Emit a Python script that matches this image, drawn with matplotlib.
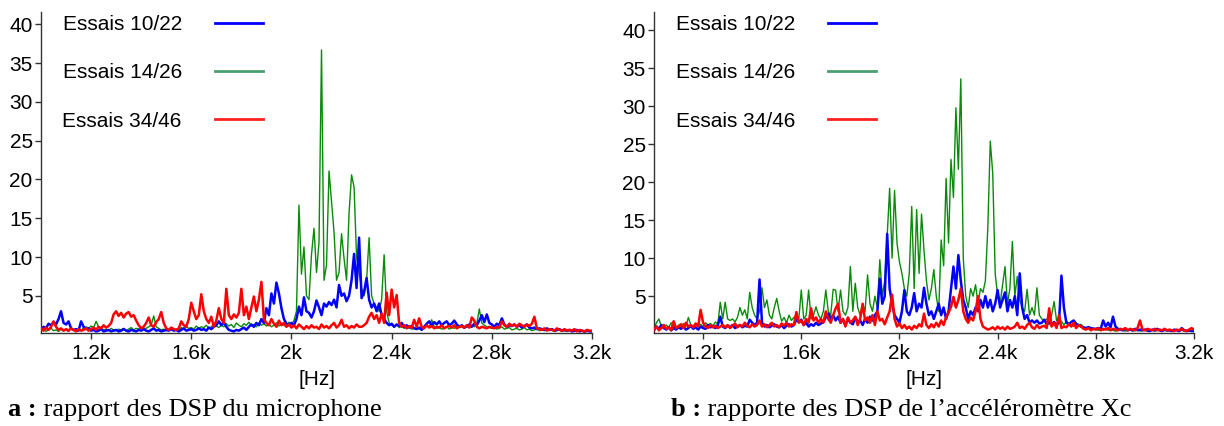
import numpy as np
import matplotlib
matplotlib.use("Agg")
import matplotlib.pyplot as plt
from matplotlib.lines import Line2D

plt.rcParams['font.family'] = ['Liberation Sans', 'DejaVu Sans']

# Frequency axis [Hz], 10 Hz step
freq = np.arange(1000, 3201, 10)

series_labels = ["Essais 10/22", "Essais 14/26", "Essais 34/46"]
x_ticks = [1200, 1600, 2000, 2400, 2800, 3200]
x_tick_labels = ["1.2k", "1.6k", "2k", "2.4k", "2.8k", "3.2k"]
y_ticks = [5, 10, 15, 20, 25, 30, 35, 40]

# ---- Panel a : microphone ----
mic_blue = [
 0.6, 1.0, 0.8, 1.4, 1.2, 1.6, 1.3, 2.0, 3.0, 1.5,
 1.3, 1.7, 0.8, 0.6, 0.7, 0.5, 1.7, 1.0, 0.7, 0.8,
 0.5, 0.6, 0.4, 0.5, 0.7, 0.4, 0.5, 0.6, 0.4, 0.5,
 0.6, 0.4, 0.5, 0.7, 0.5, 0.4, 0.6, 0.5, 0.4, 0.6,
 0.5, 0.7, 0.5, 0.4, 0.6, 0.8, 0.5, 0.6, 0.4, 0.5,
 0.6, 0.5, 0.7, 0.5, 0.6, 0.4, 0.6, 0.8, 0.5, 0.6,
 0.7, 0.5, 0.6, 0.8, 0.6, 0.7, 0.5, 0.9, 0.7, 1.0,
 1.2, 1.7, 1.2, 1.6, 1.0, 0.6, 0.5, 0.4, 0.6, 0.5,
 0.7, 0.9, 0.6, 1.0, 1.3, 1.0, 1.5, 1.2, 2.0, 1.5,
 3.4, 2.5, 5.3, 4.0, 6.7, 5.3, 3.4, 2.0, 1.4, 1.2,
 1.5, 1.2, 2.0, 3.6, 2.5, 4.8, 3.0, 2.8, 2.2, 3.0,
 4.4, 3.5, 2.5, 4.0, 3.6, 4.2, 3.8, 4.5, 3.5, 6.4,
 5.0, 5.3, 4.3, 5.0, 7.0, 10.4, 6.0, 12.5, 4.7, 5.5,
 7.3, 4.5, 3.5, 4.0, 3.0, 4.0, 2.5, 2.0, 1.5, 1.2,
 1.4, 1.0, 1.3, 1.1, 1.5, 1.0, 1.2, 0.9, 1.1, 0.8,
 0.7, 0.9, 0.6, 1.0, 1.4, 1.7, 1.2, 1.6, 1.3, 1.7,
 1.2, 1.5, 1.7, 1.2, 1.4, 1.8, 1.3, 1.0, 1.2, 0.9,
 1.1, 1.3, 1.0, 1.4, 1.2, 1.8, 2.5, 1.6, 2.6, 1.5,
 1.3, 1.0, 1.4, 1.2, 2.1, 1.3, 1.0, 1.2, 1.1, 1.3,
 1.0, 1.2, 0.9, 1.1, 1.3, 0.9, 0.8, 0.9, 0.7, 0.8,
 0.7, 0.6, 0.8, 0.6, 0.7, 0.5, 0.6, 0.7, 0.5, 0.6,
 0.5, 0.6, 0.4, 0.5, 0.6, 0.4, 0.5, 0.4, 0.5, 0.4,
 0.4]

mic_green = [
 0.5, 0.7, 0.4, 0.6, 0.8, 0.5, 0.6, 0.4, 0.7, 0.5,
 0.6, 0.4, 0.8, 0.5, 0.6, 0.7, 0.5, 0.9, 1.0, 0.8,
 1.1, 0.9, 1.7, 1.0, 0.8, 0.6, 0.7, 0.5, 0.8, 0.6,
 0.5, 0.7, 0.6, 0.8, 0.5, 0.7, 0.9, 0.6, 0.8, 0.7,
 0.9, 0.6, 0.8, 1.0, 1.2, 2.4, 1.0, 0.8, 0.6, 0.7,
 0.5, 0.6, 0.8, 0.5, 0.7, 0.6, 0.9, 0.7, 1.0, 0.8,
 0.9, 0.7, 1.1, 0.8, 1.0, 0.9, 1.2, 0.8, 1.0, 1.3,
 1.1, 0.9, 1.2, 1.0, 1.4, 1.1, 1.3, 0.9, 1.5, 1.2,
 1.0, 1.4, 1.2, 1.6, 1.1, 1.3, 1.0, 1.5, 1.2, 1.4,
 1.1, 1.3, 1.0, 1.2, 1.5, 1.1, 1.4, 1.2, 1.0, 1.6,
 1.3, 1.8, 3.0, 16.7, 7.8, 11.3, 5.0, 4.5, 10.3, 13.7,
 8.0, 11.9, 36.7, 7.0, 9.0, 21.1, 17.2, 13.2, 7.0, 8.0,
 13.0, 9.8, 7.0, 15.7, 20.6, 19.0, 10.0, 8.0, 6.0, 5.0,
 7.0, 12.5, 5.0, 4.0, 3.5, 3.0, 4.5, 10.3, 3.0, 1.5,
 1.2, 1.0, 1.3, 0.9, 1.1, 0.8, 1.0, 0.9, 0.7, 0.8,
 0.9, 0.7, 1.0, 0.8, 1.2, 0.9, 1.9, 1.0, 0.8, 0.9,
 0.7, 0.8, 1.0, 0.7, 0.9, 0.8, 1.1, 0.9, 1.0, 0.8,
 1.0, 0.9, 1.2, 1.0, 1.4, 3.3, 1.5, 1.2, 1.0, 0.9,
 0.8, 0.9, 0.7, 0.8, 1.0, 0.7, 0.8, 0.9, 0.6, 0.7,
 0.8, 0.6, 0.7, 0.9, 0.6, 0.7, 0.5, 0.6, 0.7, 0.5,
 0.6, 0.5, 0.7, 0.5, 0.6, 0.4, 0.5, 0.6, 0.4, 0.5,
 0.4, 0.5, 0.6, 0.4, 0.5, 0.4, 0.5, 0.3, 0.4, 0.5,
 0.4]

mic_red = [
 0.8, 0.5, 0.9, 0.6, 1.0, 1.7, 1.0, 0.6, 0.8, 0.5,
 0.7, 0.5, 0.8, 0.6, 0.4, 0.7, 0.5, 0.6, 0.8, 0.5,
 0.7, 0.9, 0.6, 1.0, 0.8, 1.2, 0.9, 1.1, 1.5, 2.6,
 3.0, 2.4, 2.8, 2.2, 2.7, 2.9, 2.3, 2.5, 1.8, 1.2,
 0.8, 1.0, 1.5, 2.2, 1.2, 1.0, 1.6, 2.0, 2.9, 1.5,
 0.8, 0.6, 0.9, 0.7, 0.6, 0.8, 1.7, 1.2, 1.0, 2.0,
 4.1, 3.0, 2.0, 2.5, 5.2, 3.0, 2.0, 1.5, 2.3, 1.0,
 1.8, 3.4, 2.0, 1.5, 5.9, 2.5, 2.0, 2.6, 2.2, 2.8,
 5.9, 2.5, 3.6, 2.0, 3.5, 4.9, 3.0, 4.5, 6.8, 2.0,
 1.5, 1.2, 2.0, 1.4, 1.0, 1.8, 1.2, 1.5, 1.0, 1.3,
 0.9, 1.2, 0.8, 1.3, 1.0, 0.7, 1.1, 0.8, 1.2, 0.9,
 1.0, 0.7, 1.3, 0.9, 1.1, 0.8, 1.2, 1.5, 0.9, 1.2,
 1.9, 1.0, 1.2, 0.8, 1.1, 0.9, 1.3, 1.0, 1.0, 1.2,
 1.5, 2.3, 2.8, 2.0, 2.5, 1.5, 2.7, 1.5, 5.4, 2.5,
 5.8, 3.5, 5.1, 1.5, 1.0, 1.2, 0.8, 1.1, 0.9, 1.9,
 1.0, 2.1, 1.0, 0.8, 1.2, 0.9, 1.1, 0.8, 1.0, 0.9,
 1.2, 0.8, 1.0, 1.1, 0.9, 1.2, 0.8, 1.0, 1.1, 0.9,
 1.2, 0.9, 2.2, 1.8, 1.0, 0.8, 1.0, 0.9, 0.8, 1.0,
 0.9, 0.8, 1.0, 0.9, 1.7, 1.2, 1.0, 1.4, 1.1, 1.3,
 1.0, 1.4, 1.2, 1.0, 1.3, 1.1, 1.4, 2.3, 0.8, 0.7,
 0.6, 0.8, 0.5, 0.7, 0.6, 0.5, 0.8, 0.6, 0.5, 0.7,
 0.5, 0.6, 0.5, 0.7, 0.4, 0.6, 0.5, 0.4, 0.6, 0.5,
 0.5]

# ---- Panel b : accelerometer Xc ----
acc_blue = [
 0.5, 1.0, 0.7, 1.2, 0.8, 0.6, 0.9, 0.5, 0.8, 0.6,
 0.9, 0.7, 1.0, 0.6, 0.8, 1.1, 0.7, 0.9, 0.6, 1.0,
 0.8, 0.7, 1.2, 0.9, 1.0, 0.8, 1.2, 2.3, 1.0, 0.8,
 1.1, 0.9, 1.2, 0.8, 1.0, 1.2, 0.9, 1.1, 1.0, 1.9,
 1.5, 1.2, 1.5, 7.2, 1.5, 1.0, 1.2, 0.9, 1.1, 1.3,
 1.0, 0.9, 1.2, 0.8, 1.1, 1.3, 1.0, 1.2, 1.9, 1.6,
 1.9, 1.2, 1.5, 1.0, 1.3, 1.1, 1.5, 1.2, 1.4, 1.6,
 2.2, 2.7, 2.0, 2.5, 1.8, 2.3, 1.5, 1.9, 1.2, 2.0,
 1.5, 1.3, 2.2, 1.6, 1.8, 1.2, 2.0, 1.5, 2.3, 1.8,
 2.5, 3.0, 7.3, 4.0, 5.0, 13.2, 6.0, 4.0, 2.5, 2.0,
 1.5, 3.0, 5.8, 3.0, 2.5, 3.5, 5.4, 3.0, 4.0, 3.5,
 6.1, 4.0, 2.5, 3.0, 2.0, 3.0, 4.0, 2.5, 3.5, 2.0,
 3.0, 6.0, 8.9, 6.0, 10.4, 7.0, 4.5, 3.5, 2.0, 3.0,
 2.5, 3.5, 3.0, 4.5, 3.5, 5.0, 3.5, 4.5, 3.0, 4.0,
 5.8, 3.5, 4.5, 5.5, 3.0, 4.5, 3.5, 5.0, 2.5, 8.0,
 3.5, 2.0, 2.5, 1.5, 1.8, 1.5, 1.8, 1.4, 1.5, 1.9,
 1.3, 1.5, 1.2, 1.6, 1.2, 1.5, 7.7, 3.5, 1.5, 1.3,
 1.6, 1.8, 1.3, 1.2, 1.0, 0.9, 0.8, 0.9, 0.8, 0.7,
 0.7, 0.8, 0.7, 1.8, 1.0, 1.5, 0.9, 2.3, 1.0, 0.7,
 0.6, 0.5, 0.7, 0.5, 0.6, 0.5, 0.7, 0.5, 0.6, 0.5,
 0.6, 0.5, 0.4, 0.6, 0.5, 0.7, 0.5, 0.4, 0.6, 0.5,
 0.5, 0.4, 0.6, 0.5, 0.4, 0.8, 0.5, 0.4, 0.5, 0.4,
 0.4]

acc_green = [
 0.8, 1.5, 2.0, 1.0, 0.8, 1.2, 0.9, 1.5, 1.0, 0.8,
 1.2, 0.9, 1.4, 1.0, 2.2, 1.2, 1.0, 1.4, 1.1, 1.3,
 1.0, 1.5, 1.2, 1.4, 1.1, 1.6, 1.3, 4.2, 2.0, 4.2,
 2.0, 1.8, 2.0, 1.6, 2.2, 3.5, 2.5, 3.2, 2.0, 5.5,
 3.5, 2.5, 2.0, 3.0, 6.1, 3.5, 4.5, 2.5, 2.0, 3.5,
 4.7, 3.0, 1.7, 2.2, 1.5, 2.5, 1.8, 2.2, 2.5, 2.0,
 5.8, 2.0, 2.5, 5.8, 2.0, 2.5, 3.6, 2.5, 2.0, 3.0,
 5.8, 3.0, 2.5, 5.9, 5.8, 3.0, 5.8, 3.0, 2.5, 3.5,
 8.9, 3.0, 6.7, 3.5, 2.5, 4.0, 3.0, 7.8, 4.0, 3.0,
 5.0, 3.5, 9.8, 5.0, 7.0, 12.9, 19.2, 10.0, 18.9, 12.0,
 9.5, 8.0, 6.0, 5.0, 8.0, 16.8, 6.0, 16.4, 8.0, 15.8,
 11.0, 7.0, 4.5, 6.0, 8.5, 5.0, 3.0, 12.4, 9.0, 20.5,
 12.0, 23.0, 18.0, 29.8, 21.7, 33.6, 10.0, 5.0, 3.5, 6.0,
 5.0, 6.5, 4.0, 6.0, 5.5, 7.0, 14.0, 25.4, 21.2, 8.0,
 5.0, 4.0, 6.5, 8.9, 4.0, 6.0, 12.2, 5.0, 7.6, 4.5,
 3.5, 3.0, 5.9, 2.5, 3.5, 2.5, 6.1, 2.5, 2.0, 1.7,
 2.0, 1.5, 2.5, 4.3, 1.8, 1.5, 1.7, 1.2, 1.7, 1.4,
 1.2, 1.0, 1.5, 1.0, 1.3, 0.9, 0.8, 1.0, 0.7, 0.8,
 0.6, 0.5, 0.6, 0.5, 0.7, 0.5, 0.6, 0.5, 0.4, 0.5,
 0.6, 0.5, 0.4, 0.5, 0.6, 0.4, 0.5, 0.6, 0.4, 0.5,
 0.5, 0.4, 0.6, 0.5, 0.4, 0.5, 0.6, 0.4, 0.5, 0.4,
 0.5, 0.4, 0.5, 0.6, 0.4, 0.5, 0.4, 0.5, 0.4, 0.5,
 0.4]

acc_red = [
 0.6, 1.0, 0.5, 0.8, 1.2, 0.7, 0.9, 0.5, 1.7, 0.8,
 1.0, 1.3, 0.8, 1.5, 1.0, 1.2, 0.9, 1.4, 1.0, 3.2,
 1.5, 1.0, 0.8, 1.2, 0.9, 1.1, 0.8, 1.0, 1.2, 0.9,
 1.2, 0.8, 1.1, 1.4, 0.9, 1.2, 1.0, 1.5, 1.1, 0.9,
 1.3, 1.0, 1.2, 1.8, 1.0, 1.3, 0.9, 1.2, 1.5, 1.0,
 1.2, 0.9, 1.4, 1.1, 1.5, 1.0, 1.3, 1.2, 2.9, 1.5,
 1.8, 1.2, 2.0, 1.5, 3.4, 1.8, 2.2, 1.5, 2.0, 1.5,
 3.0, 2.0, 1.5, 2.5, 3.4, 4.0, 1.5, 2.0, 1.0, 2.2,
 1.5, 1.8, 2.3, 1.2, 2.0, 4.0, 1.8, 2.2, 1.5, 2.5,
 1.2, 3.0, 1.8, 2.0, 1.3, 2.2, 3.0, 5.2, 2.0, 1.0,
 1.4, 0.8, 1.2, 0.7, 1.0, 0.6, 1.1, 0.8, 1.3, 1.0,
 2.7, 1.2, 0.8, 1.3, 0.9, 1.5, 1.0, 1.8, 1.2, 2.2,
 2.8, 3.6, 4.9, 3.5, 4.5, 6.0, 3.0, 2.0, 1.5, 2.2,
 1.8, 3.0, 5.0, 2.0, 1.0, 0.8, 0.6, 0.7, 0.9, 0.6,
 1.0, 0.7, 0.9, 0.6, 1.0, 0.7, 0.8, 1.0, 1.5, 0.8,
 1.0, 0.7, 1.2, 1.5, 0.9, 0.7, 1.2, 0.8, 1.0, 1.1,
 0.8, 3.4, 1.0, 1.5, 0.8, 2.5, 0.8, 1.0, 0.9, 1.3,
 1.0, 1.5, 0.8, 1.2, 1.0, 0.7, 0.6, 0.8, 0.5, 0.7,
 0.6, 0.8, 0.5, 0.7, 0.6, 0.8, 0.5, 0.7, 0.6, 0.5,
 0.7, 0.6, 0.8, 0.5, 0.7, 0.6, 0.5, 0.8, 1.8, 0.6,
 0.5, 0.7, 0.6, 0.5, 0.7, 0.5, 0.6, 0.5, 0.7, 0.5,
 0.6, 0.5, 0.4, 0.6, 0.5, 0.7, 0.5, 0.4, 0.6, 0.8,
 0.6]

captions = [("a :", "rapport des DSP du microphone"),
            ("b :", "rapporte des DSP de l\u2019acc\u00e9l\u00e9rom\u00e8tre Xc")]

COL_B, COL_G, COL_R = "#0000ff", "#0a8a0a", "#ff0000"
LEG_COLS = ["#0000ff", "#4a9e70", "#ff2020"]
SERIF = ["Liberation Serif", "DejaVu Serif"]

fig = plt.figure(figsize=(12.24, 4.26), dpi=100)

H = 426.0
W = 1224.0
axes_px = [(41, 551, 0.2, 41.6), (654, 540, 0.15, 42.4)]
data = [(mic_blue, mic_green, mic_red), (acc_blue, acc_green, acc_red)]

for (x0, w, ylo, yhi), (sb, sg, sr) in zip(axes_px, data):
    ax = fig.add_axes([x0 / W, 1 - 333 / H, w / W, 321 / H])
    ax.plot(freq, sg, color=COL_G, lw=1.0, zorder=1)
    ax.plot(freq, sb, color=COL_B, lw=1.8, zorder=2)
    ax.plot(freq, sr, color=COL_R, lw=1.8, zorder=3)
    ax.set_xlim(1000, 3200)
    ax.set_ylim(ylo, yhi)
    ax.set_xticks(x_ticks)
    ax.set_xticklabels(x_tick_labels)
    ax.set_yticks(y_ticks)
    for s in ["top", "right"]:
        ax.spines[s].set_visible(False)
    for s in ["left", "bottom"]:
        ax.spines[s].set_color("#333333")
        ax.spines[s].set_linewidth(1.0)
    ax.tick_params(axis="both", labelsize=15, color="#333333", width=1.0,
                   length=4, pad=2)
    ax.tick_params(axis="x", pad=4)
    ax.set_xlabel("[Hz]", fontsize=15, labelpad=5)
    handles = [Line2D([0], [0], color=c, lw=2) for c in LEG_COLS]
    ax.legend(handles, series_labels, loc="upper left",
              bbox_to_anchor=(21.5 / w, 0.99), frameon=False,
              markerfirst=False, fontsize=15, handlelength=2.3,
              handletextpad=1.6, labelspacing=1.4, borderpad=0,
              borderaxespad=0)

fig.canvas.draw()
for (bold, rest), xpx in zip(captions, [8, 671]):
    t = fig.text(xpx / W, 1 - 416 / H, bold, fontsize=19, fontweight="bold",
                 family=SERIF, va="baseline")
    fig.canvas.draw()
    bb = t.get_window_extent()
    fig.text(bb.x1 / W, 1 - 416 / H, " " + rest, fontsize=19,
             family=SERIF, va="baseline")

fig.savefig("out.png", dpi=100)
